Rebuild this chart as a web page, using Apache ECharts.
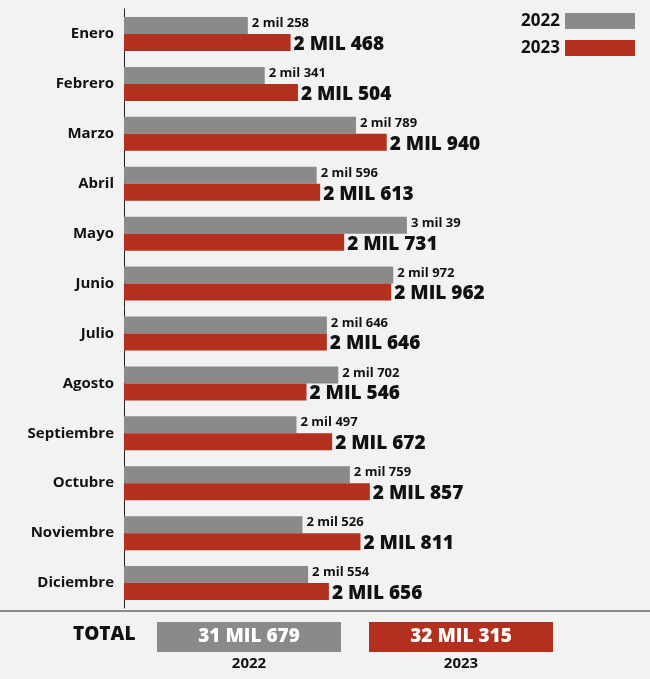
<!DOCTYPE html>
<html><head><meta charset="utf-8">
<script src="https://cdn.jsdelivr.net/npm/echarts@6/dist/echarts.min.js"></script>
<style>html,body{margin:0;padding:0;background:#f2f2f2}#c{width:650px;height:679px}</style>
</head><body><div id="c"></div>
<script>
const months=['Enero','Febrero','Marzo','Abril','Mayo','Junio','Julio','Agosto','Septiembre','Octubre','Noviembre','Diciembre'];
const v2022=[2258,2341,2789,2596,3039,2972,2646,2702,2497,2759,2526,2554];
const v2023=[2468,2504,2940,2613,2731,2962,2646,2546,2672,2857,2811,2656];
const totals=['31 MIL 679','32 MIL 315'];
const years=['2022','2023'];
const GRAY='#8a8a8a',RED='#b2301d';
function fmt(v,up){const t=Math.floor(v/1000),r=v%1000;return t+(up?' MIL ':' mil ')+r;}
const chart=echarts.init(document.getElementById('c'));
const F='"Open Sans", sans-serif';
chart.setOption({
 backgroundColor:'#f2f2f2',animation:false,
 grid:{left:124,right:27,top:9,bottom:71},
 xAxis:{type:'value',min:1650,max:4100,show:false},
 yAxis:{type:'category',data:months,inverse:true,
  axisLine:{lineStyle:{color:'#222',width:1}},axisTick:{show:false},
  axisLabel:{color:'#111',fontWeight:'bold',fontSize:15,fontFamily:F,margin:10}},
 series:[
  {type:'bar',data:v2022,barWidth:17,barGap:'0%',itemStyle:{color:GRAY},
   label:{show:true,position:'right',distance:4,formatter:p=>fmt(p.value,false),color:'#111',fontWeight:'bold',fontSize:13,fontFamily:F,offset:[0,-2]}},
  {type:'bar',data:v2023,barWidth:17,itemStyle:{color:RED},
   label:{show:true,position:'right',distance:3,formatter:p=>fmt(p.value,true),color:'#111',fontWeight:'800',fontSize:19,fontFamily:F,offset:[0,2]}}
 ],
 graphic:[
  {type:'line',shape:{x1:0,y1:611,x2:650,y2:611},style:{stroke:'#222',lineWidth:1}},
  {type:'text',left:73,top:625,style:{text:'TOTAL',font:'800 19px '+F,fill:'#111'}},
  {type:'rect',shape:{x:157,y:622,width:184,height:30},style:{fill:GRAY}},
  {type:'rect',shape:{x:369,y:622,width:184,height:30},style:{fill:RED}},
  {type:'text',x:249,y:637,style:{text:totals[0],font:'800 19px '+F,fill:'#fff',align:'center',verticalAlign:'middle'}},
  {type:'text',x:461,y:637,style:{text:totals[1],font:'800 19px '+F,fill:'#fff',align:'center',verticalAlign:'middle'}},
  {type:'text',x:249,y:664,style:{text:years[0],font:'bold 15px '+F,fill:'#111',align:'center',verticalAlign:'middle'}},
  {type:'text',x:461,y:664,style:{text:years[1],font:'bold 15px '+F,fill:'#111',align:'center',verticalAlign:'middle'}},
  {type:'text',x:560,y:21,style:{text:years[0],font:'bold 17px '+F,fill:'#111',align:'right',verticalAlign:'middle'}},
  {type:'rect',shape:{x:565,y:13,width:70,height:16},style:{fill:GRAY}},
  {type:'text',x:560,y:48,style:{text:years[1],font:'bold 17px '+F,fill:'#111',align:'right',verticalAlign:'middle'}},
  {type:'rect',shape:{x:565,y:40,width:70,height:16},style:{fill:RED}}
 ]
});
</script></body></html>
